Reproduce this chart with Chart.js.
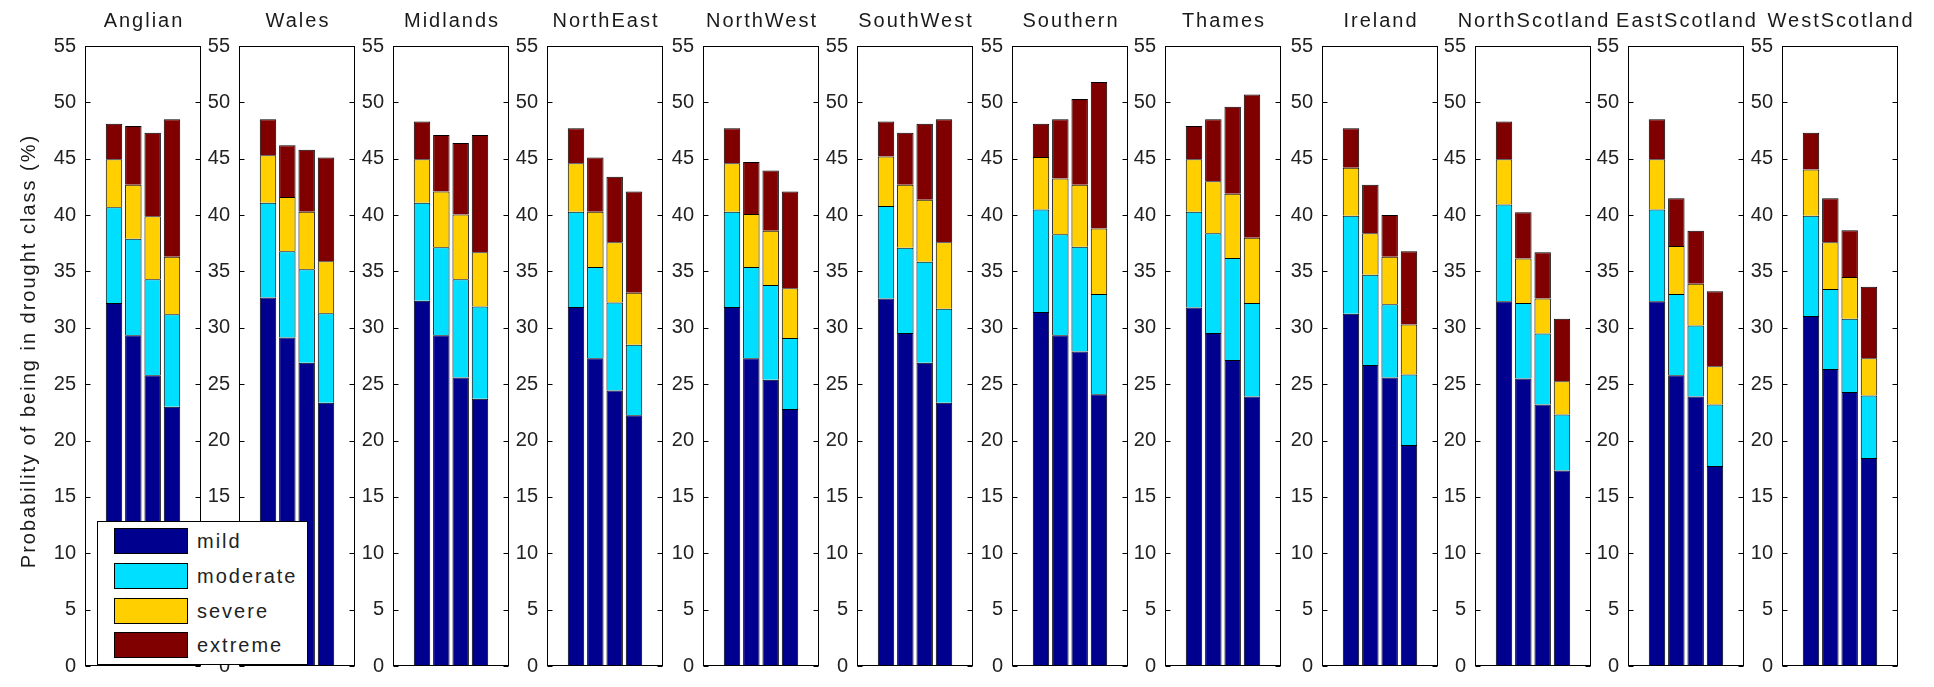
<!DOCTYPE html>
<html>
<head>
<meta charset="utf-8">
<script src="https://cdn.jsdelivr.net/npm/chart.js@4/dist/chart.umd.min.js"></script>
<style>
  html, body { margin: 0; padding: 0; background: #fff; }
  #wrap { position: relative; width: 1934px; height: 687px; overflow: hidden; background: #fff; }
  #wrap canvas { position: absolute; top: 0; }
  #legend {
    position: absolute; left: 97px; top: 521px; width: 211px; height: 144px;
    box-sizing: border-box; border: 1px solid #000; background: #fff; z-index: 5;
    font: 20px "Liberation Sans", Arial, sans-serif; letter-spacing: 2px; color: #222;
  }
  #legend .item { position: absolute; left: 16px; height: 26px; display: flex; align-items: center; }
  #legend .sw { width: 74px; height: 26px; box-sizing: border-box; border: 1px solid #000; margin-right: 9px; }
</style>
</head>
<body>
<div id="wrap"><div id="legend"></div></div>
<script>
// Regions, one panel each
const regions = ['Anglian', 'Wales', 'Midlands', 'NorthEast', 'NorthWest', 'SouthWest',
                 'Southern', 'Thames', 'Ireland', 'NorthScotland', 'EastScotland', 'WestScotland'];

// Four bars per panel, placed at x = 1..4
const barSlots = [1, 2, 3, 4];

// Drought classes (stack order, bottom to top)
const classes = ['mild', 'moderate', 'severe', 'extreme'];

// Probability (%) of each drought class; rows follow `regions`, columns follow `barSlots`
const mild = [
  [32.2, 29.35, 25.8, 23.0],
  [32.7, 29.15, 26.9, 23.35],
  [32.4, 29.35, 25.6, 23.7],
  [31.85, 27.3, 24.45, 22.25],
  [31.85, 27.3, 25.4, 22.8],
  [32.6, 29.55, 26.9, 23.35],
  [31.4, 29.35, 27.9, 24.1],
  [31.8, 29.55, 27.15, 23.9],
  [31.25, 26.7, 25.6, 19.6],
  [32.35, 25.5, 23.2, 17.35],
  [32.35, 25.8, 23.9, 17.75],
  [31.05, 26.35, 24.3, 18.45]
];
const moderate = [
  [8.5, 8.55, 8.5, 8.2],
  [8.4, 7.65, 8.3, 7.95],
  [8.7, 7.8, 8.7, 8.2],
  [8.45, 8.1, 7.8, 6.25],
  [8.45, 8.1, 8.4, 6.3],
  [8.2, 7.55, 8.95, 8.35],
  [9.1, 8.95, 9.3, 8.9],
  [8.5, 8.85, 9.05, 8.3],
  [8.7, 8.0, 6.5, 6.25],
  [8.6, 6.7, 6.3, 4.95],
  [8.15, 7.2, 6.3, 5.45],
  [8.9, 7.1, 6.5, 5.55]
];
const severe = [
  [4.25, 4.8, 5.6, 5.1],
  [4.2, 4.8, 5.1, 4.6],
  [3.85, 4.95, 5.75, 4.8],
  [4.3, 4.9, 5.35, 4.6],
  [4.3, 4.7, 4.8, 4.4],
  [4.4, 5.6, 5.5, 5.9],
  [4.65, 4.95, 5.5, 5.8],
  [4.65, 4.6, 5.7, 5.8],
  [4.25, 3.7, 4.2, 4.45],
  [4.0, 3.95, 3.1, 2.95],
  [4.45, 4.25, 3.7, 3.4],
  [4.1, 4.15, 3.7, 3.3]
];
const extreme = [
  [3.15, 5.2, 7.4, 12.2],
  [3.2, 4.6, 5.5, 9.2],
  [3.35, 5.0, 6.35, 10.4],
  [3.1, 4.8, 5.8, 9.0],
  [3.1, 4.6, 5.36, 8.6],
  [3.1, 4.6, 6.75, 10.9],
  [2.95, 5.25, 7.6, 13.0],
  [2.95, 5.5, 7.7, 12.7],
  [3.5, 4.3, 3.7, 6.5],
  [3.35, 4.1, 4.1, 5.55],
  [3.55, 4.25, 4.7, 6.65],
  [3.25, 3.9, 4.15, 6.35]
];

// Y axis ticks
const yMin = 0, yMax = 55, yStep = 5;
const yLabel = 'Probability of being in drought class (%)';

// Styling
const classColors = ['rgb(0,0,143)', 'rgb(0,223,255)', 'rgb(255,207,0)', 'rgb(128,0,0)'];
const FONT = '"Liberation Sans", Arial, Helvetica, sans-serif';
const classSeries = [mild, moderate, severe, extreme];

// Panel layout (pixels)
const boxLefts = [85, 239, 393, 547, 703, 857, 1012, 1165, 1322, 1475, 1628, 1782];
const boxWidth = 116;
const boxTop = 46, canvasH = 687, padBottom = 12, padRight = 30;

// Frame, inward ticks, panel title and y-axis title
const framePlugin = {
  id: 'frame',
  afterDatasetsDraw(chart, args, opts) {
    const { ctx, chartArea: a } = chart;
    const ys = chart.scales.y;
    ctx.save();
    ctx.strokeStyle = '#000';
    ctx.lineWidth = 1;
    const l = Math.round(a.left) + 0.5, r = Math.round(a.right) - 0.5;
    const t = Math.round(a.top) + 0.5, b = Math.round(a.bottom) - 0.5;
    ctx.strokeRect(l, t, r - l, b - t);
    ctx.beginPath();
    for (let v = yMin; v <= yMax; v += yStep) {
      const py = Math.round(ys.getPixelForValue(v)) + 0.5;
      ctx.moveTo(l, py); ctx.lineTo(l + 5, py);
      ctx.moveTo(r, py); ctx.lineTo(r - 5, py);
    }
    ctx.stroke();

    ctx.fillStyle = '#1a1a1a';
    ctx.font = '20px ' + FONT;
    ctx.letterSpacing = '2px';
    ctx.textAlign = 'center';
    ctx.textBaseline = 'alphabetic';
    ctx.fillText(opts.title, (a.left + a.right) / 2 + 1, 27);
    if (opts.ylabel) {
      ctx.translate(35, (a.top + a.bottom) / 2 - 5);
      ctx.rotate(-Math.PI / 2);
      ctx.fillText(opts.ylabel, 0, 0);
    }
    ctx.restore();
  }
};

const wrap = document.getElementById('wrap');

regions.forEach((name, i) => {
  const axisW = i === 0 ? boxLefts[0] : 50;
  const canvas = document.createElement('canvas');
  canvas.width = axisW + boxWidth + padRight;
  canvas.height = canvasH;
  canvas.style.left = (boxLefts[i] - axisW) + 'px';
  wrap.appendChild(canvas);

  new Chart(canvas, {
    type: 'bar',
    data: {
      datasets: classes.map((cls, k) => ({
        label: cls,
        data: barSlots.map((x, j) => ({ x: x, y: classSeries[k][i][j] })),
        backgroundColor: classColors[k],
        borderColor: '#000',
        borderWidth: 1,
        barPercentage: 0.85,
        categoryPercentage: 1
      }))
    },
    options: {
      responsive: false,
      animation: false,
      devicePixelRatio: 1,
      layout: { padding: { left: 0, right: padRight, top: boxTop, bottom: padBottom } },
      plugins: {
        legend: { display: false },
        tooltip: { enabled: false },
        frame: { title: name, ylabel: i === 0 ? yLabel : null }
      },
      scales: {
        x: {
          type: 'linear', min: 0, max: 5, stacked: true, display: false,
          ticks: { stepSize: 1 }
        },
        y: {
          stacked: true, min: yMin, max: yMax,
          ticks: { stepSize: yStep, color: '#222', padding: 9, font: { family: FONT, size: 20 } },
          grid: { display: false, drawTicks: false },
          border: { display: false },
          afterFit(scale) { scale.width = axisW; }
        }
      }
    },
    plugins: [framePlugin]
  });
});

// Legend
const legend = document.getElementById('legend');
const itemTops = [6, 41, 76, 110];
classes.forEach((cls, k) => {
  const item = document.createElement('div');
  item.className = 'item';
  item.style.top = itemTops[k] + 'px';
  const sw = document.createElement('div');
  sw.className = 'sw';
  sw.style.background = classColors[k];
  const label = document.createElement('span');
  label.textContent = cls;
  item.appendChild(sw);
  item.appendChild(label);
  legend.appendChild(item);
});
</script>
</body>
</html>
